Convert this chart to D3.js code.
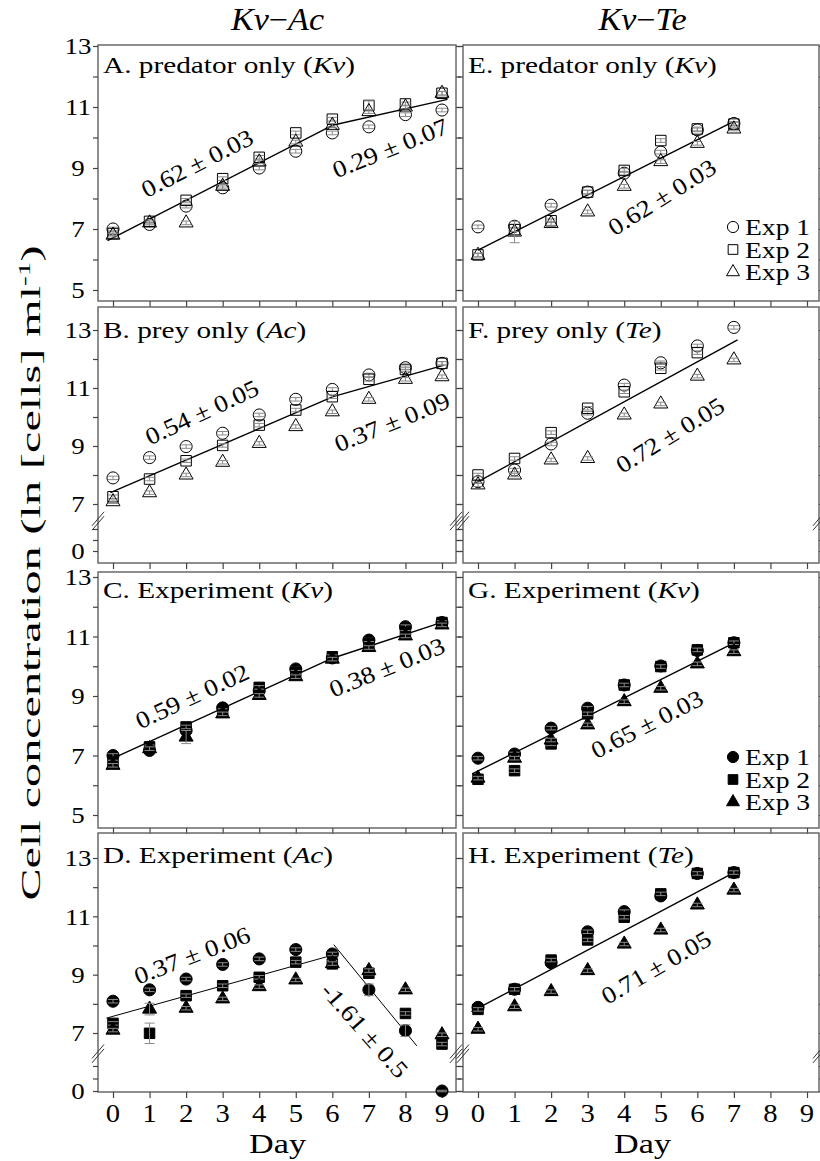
<!DOCTYPE html>
<html>
<head>
<meta charset="utf-8">
<script src="https://cdn.jsdelivr.net/npm/d3@7"></script>
<style>
body { margin: 0; background: #fff; }
svg { display: block; }
text { font-family: "Liberation Serif", "Times New Roman", serif; fill: #000; }
</style>
</head>
<body>
<svg id="chart" width="820" height="1161"></svg>
<script>
// days on the x axis
var days = [0, 1, 2, 3, 4, 5, 6, 7, 8, 9];

// A. predator only (Kv), Kv-Ac
var aExp1 = [7.0, 7.15, 7.75, 8.35, 9.0, 9.55, 10.15, 10.35, 10.75, 10.9];
var aExp2 = [6.85, 7.25, 7.94, 8.65, 9.35, 10.15, 10.6, 11.05, 11.1, 11.45];
var aExp3 = [6.8, 7.2, 7.2, 8.4, 9.2, 9.85, 10.4, 10.85, 11.0, 11.45];
// B. prey only (Ac)
var bExp1 = [7.9, 8.6, 8.98, 9.44, 10.07, 10.61, 10.95, 11.45, 11.7, 11.85];
var bExp2 = [7.25, 7.86, 8.49, 9.02, 9.72, 10.24, 10.7, 11.3, 11.64, 11.85];
var bExp3 = [7.08, 7.39, 8.0, 8.44, 9.09, 9.67, 10.18, 10.61, 11.3, 11.39];
// C. Experiment (Kv)
var cExp1 = [7.0, 7.17, 7.84, 8.6, 9.18, 9.91, 10.28, 10.88, 11.33, 11.47];
var cExp2 = [6.78, 7.29, 7.96, 8.51, 9.29, 9.8, 10.32, 10.77, 11.14, 11.47];
var cExp3 = [6.67, 7.23, 7.62, 8.4, 9.02, 9.65, 10.24, 10.63, 11.02, 11.39];
// D. Experiment (Ac)
var dExp1 = [8.09, 8.48, 8.85, 9.35, 9.54, 9.86, 9.71, 8.48, 7.08, 0];
var dExp2 = [7.33, 6.99, 8.28, 8.62, 8.91, 9.43, 9.37, 9.05, 7.67, 6.62];
var dExp3 = [7.1, 7.82, 7.85, 8.17, 8.59, 8.82, 9.38, 9.14, 8.48, 6.94];
// E. predator only (Kv), Kv-Te
var eExp1 = [7.07, 7.09, 7.78, 8.21, 8.83, 9.52, 10.25, 10.46];
var eExp2 = [6.15, 6.98, 7.27, 8.21, 8.92, 9.9, 10.28, 10.44];
var eExp3 = [6.14, 6.9, 7.18, 7.56, 8.4, 9.21, 9.81, 10.28];
// F. prey only (Te)
var fExp1 = [7.77, 8.17, 9.07, 10.13, 11.1, 11.87, 12.45, 13.09];
var fExp2 = [8.0, 8.57, 9.46, 10.3, 10.87, 11.68, 12.22, null];
var fExp3 = [7.66, 8.0, 8.52, 8.57, 10.07, 10.45, 11.41, 11.97];
// G. Experiment (Kv)
var gExp1 = [6.91, 7.05, 7.92, 8.59, 9.37, 10.01, 10.53, 10.79];
var gExp2 = [6.2, 6.49, 7.39, 8.4, 9.37, 9.99, 10.55, 10.79];
var gExp3 = [6.24, 6.91, 7.52, 8.03, 8.81, 9.26, 10.08, 10.49];
// H. Experiment (Te)
var hExp1 = [7.88, 8.5, 9.41, 10.47, 11.16, 11.7, 12.47, 12.5];
var hExp2 = [7.81, 8.5, 9.5, 10.19, 10.97, 11.77, 12.47, 12.5];
var hExp3 = [7.13, 7.9, 8.42, 9.14, 10.05, 10.53, 11.39, 11.9];

// standard errors: most are tiny, a few are larger
var typicalSE = 0.06;
var largeSE = [
  ["C", 2, 2, 0.22], ["D", 1, 1, 0.35], ["D", 2, 1, 0.2], ["D", 0, 7, 0.2],
  ["D", 0, 8, 0.2], ["D", 1, 6, 0.12], ["E", 2, 1, 0.35], ["A", 1, 7, 0.15]
];

// fitted growth lines [dayFrom, valueFrom, dayTo, valueTo]
var fitA = [[-0.15, 6.62, 6.0, 10.4], [6.0, 10.4, 9.15, 11.25]];
var fitB = [[-0.07, 7.39, 6.02, 10.7], [6.02, 10.7, 9.06, 11.79]];
var fitC = [[-0.05, 6.88, 6.0, 10.27], [6.0, 10.27, 9.06, 11.5]];
var fitD = [[-0.18, 7.51, 5.98, 9.66], [6.04, 10.03, 8.31, 6.56]];
var fitE = [[0, 6.31, 7.0, 10.53]];
var fitF = [[-0.16, 7.66, 7.1, 12.66]];
var fitG = [[-0.16, 6.38, 7.02, 10.79]];
var fitH = [[-0.18, 7.73, 7.0, 12.5]];

// growth rate labels [text, day, value, angle]
var ratesA = [["0.62 \u00b1 0.03", 2.3, 9.16, -27], ["0.29 \u00b1 0.07", 7.58, 9.66, -22]];
var ratesB = [["0.54 \u00b1 0.05", 2.43, 10.17, -25], ["0.37 \u00b1 0.09", 7.63, 9.83, -22]];
var ratesC = [["0.59 \u00b1 0.02", 2.16, 9.0, -25], ["0.38 \u00b1 0.03", 7.49, 9.97, -22]];
var ratesD = [["0.37 \u00b1 0.06", 2.16, 9.67, -21], ["-1.61 \u00b1 0.5", 6.89, 7.1, 48.5]];
var ratesE = [["0.62 \u00b1 0.03", 5.03, 8.05, -32]];
var ratesF = [["0.72 \u00b1 0.05", 5.25, 9.38, -31.5]];
var ratesG = [["0.65 \u00b1 0.03", 4.62, 8.06, -27]];
var ratesH = [["0.71 \u00b1 0.05", 4.87, 9.26, -30]];

var legendLabels = ["Exp 1", "Exp 2", "Exp 3"];
var columnTitles = [["Kv", "Ac"], ["Kv", "Te"]];

// layout
var cols = [
  { x0: 98, x1: 456, d0: 113, d9: 442 },
  { x0: 463, x1: 819, d0: 478, d9: 807 }
];
var rows = [
  { top: 45, bottom: 301, y13: 46, y5: 290, titleY: 73 },
  { top: 307, bottom: 563, y13: 330, y7: 504, y0: 551, low: 11, broken: true, titleY: 338 },
  { top: 572, bottom: 828, y13: 577, y5: 815, titleY: 598 },
  { top: 833, bottom: 1092, y13: 858, y7: 1033, y0: 1091, low: 12.5, broken: true, titleY: 863 }
];

var panels = [
  { id: "A", col: 0, row: 0, title: ["A. predator only (", "Kv", ")"], filled: false, series: [aExp1, aExp2, aExp3], fit: fitA, rates: ratesA },
  { id: "B", col: 0, row: 1, title: ["B. prey only (", "Ac", ")"], filled: false, series: [bExp1, bExp2, bExp3], fit: fitB, rates: ratesB },
  { id: "C", col: 0, row: 2, title: ["C. Experiment (", "Kv", ")"], filled: true, series: [cExp1, cExp2, cExp3], fit: fitC, rates: ratesC },
  { id: "D", col: 0, row: 3, title: ["D. Experiment (", "Ac", ")"], filled: true, series: [dExp1, dExp2, dExp3], fit: fitD, rates: ratesD, thin: true },
  { id: "E", col: 1, row: 0, title: ["E. predator only (", "Kv", ")"], filled: false, series: [eExp1, eExp2, eExp3], fit: fitE, rates: ratesE, legend: true },
  { id: "F", col: 1, row: 1, title: ["F. prey only (", "Te", ")"], filled: false, series: [fExp1, fExp2, fExp3], fit: fitF, rates: ratesF },
  { id: "G", col: 1, row: 2, title: ["G. Experiment (", "Kv", ")"], filled: true, series: [gExp1, gExp2, gExp3], fit: fitG, rates: ratesG, legend: true },
  { id: "H", col: 1, row: 3, title: ["H. Experiment (", "Te", ")"], filled: true, series: [hExp1, hExp2, hExp3], fit: fitH, rates: ratesH }
];

var symbols = [d3.symbolCircle, d3.symbolSquare, d3.symbolTriangle];
var symbolSize = [115, 110, 85];
var frameColor = "#6a6a6a";
var errColor = "#8a8a8a";

var svg = d3.select("#chart");

// text stretched a bit wider, like the original figure
function stretched(parent, x, y, size, sx, rot) {
  return parent.append("text")
    .attr("transform", "translate(" + x + "," + y + ") rotate(" + (rot || 0) + ") scale(" + sx + ",1)")
    .style("font-size", size + "px");
}

function seOf(id, s, i) {
  var hit = largeSE.filter(function (e) { return e[0] === id && e[1] === s && e[2] === i; });
  return hit.length ? hit[0][3] : typicalSE;
}

panels.forEach(function (p) {
  var c = cols[p.col], r = rows[p.row];
  var g = svg.append("g");
  var x = d3.scaleLinear().domain([0, 9]).range([c.d0, c.d9]);
  var y, ticks, labels;
  if (r.broken) {
    var u = (r.y7 - r.y13) / 6;
    y = d3.scaleLinear().domain([0, 2.5, 6.5, 13])
      .range([r.y0, r.y0 - 2.5 * r.low, r.y7 + 0.5 * u, r.y13]);
    ticks = [0, 1, 2, 7, 8, 9, 10, 11, 12, 13];
    labels = [13, 11, 9, 7, 0];
  } else {
    y = d3.scaleLinear().domain([5, 13]).range([r.y5, r.y13]);
    ticks = d3.range(5, 14);
    labels = [13, 11, 9, 7, 5];
  }

  // frame
  g.append("rect")
    .attr("x", c.x0).attr("y", r.top)
    .attr("width", c.x1 - c.x0).attr("height", r.bottom - r.top)
    .attr("fill", "none").attr("stroke", frameColor).attr("stroke-width", 1.5);

  // ticks
  var axL = g.append("g").attr("transform", "translate(" + c.x0 + ",0)")
    .call(d3.axisLeft(y).tickValues(ticks).tickSize(5).tickFormat(""));
  var axR = g.append("g").attr("transform", "translate(" + c.x1 + ",0)")
    .call(d3.axisRight(y).tickValues(ticks).tickSize(5).tickFormat(""));
  var axB = g.append("g").attr("transform", "translate(0," + r.bottom + ")")
    .call(d3.axisBottom(x).tickValues(days).tickSize(6).tickFormat(""));
  [axL, axR, axB].forEach(function (a) {
    a.select(".domain").remove();
    a.selectAll("line").attr("stroke", "#444").attr("stroke-width", 1.2);
  });

  // axis break marks
  if (r.broken) {
    var yb = (y(2.5) + y(6.5)) / 2;
    [c.x0, c.x1].forEach(function (xb) {
      [-2.2, 2.2].forEach(function (o) {
        g.append("line")
          .attr("x1", xb - 6).attr("y1", yb + 7 + o)
          .attr("x2", xb + 6).attr("y2", yb - 7 + o)
          .attr("stroke", "#333").attr("stroke-width", 1);
      });
    });
  }

  // y labels on the left column
  if (p.col === 0) {
    labels.forEach(function (v) {
      stretched(g, 78, y(v), 24, 1.12).attr("text-anchor", "middle")
        .attr("dy", "0.35em").text(v);
    });
  }

  // x labels on the bottom row
  if (p.row === 3) {
    days.forEach(function (d) {
      stretched(g, x(d), 1122, 26, 1.1).attr("text-anchor", "middle").text(d);
    });
    stretched(g, x(4.5), 1153, 28, 1.22).attr("text-anchor", "middle").text("Day");
  }

  // panel title
  var t = stretched(g, c.x0 + 5, r.titleY, 24, 1.22);
  t.append("tspan").text(p.title[0]);
  t.append("tspan").style("font-style", "italic").text(p.title[1]);
  t.append("tspan").text(p.title[2]);

  // fitted lines
  g.selectAll(".fit").data(p.fit).enter().append("line")
    .attr("x1", function (d) { return x(d[0]); })
    .attr("y1", function (d) { return y(d[1]); })
    .attr("x2", function (d) { return x(d[2]); })
    .attr("y2", function (d) { return y(d[3]); })
    .attr("stroke", "#000").attr("stroke-width", p.thin ? 1 : 1.4);

  // points with error bars
  p.series.forEach(function (vals, s) {
    var pts = vals.map(function (v, i) { return { day: i, v: v, se: seOf(p.id, s, i) }; })
      .filter(function (d) { return d.v !== null; });
    g.selectAll(".m" + s).data(pts).enter().append("path")
      .attr("transform", function (d) { return "translate(" + x(d.day) + "," + y(d.v) + ")"; })
      .attr("d", d3.symbol().type(symbols[s]).size(symbolSize[s]))
      .attr("fill", p.filled ? "#000" : "none")
      .attr("stroke", "#000").attr("stroke-width", 1);
    var eb = g.selectAll(".e" + s).data(pts).enter().append("g")
      .attr("stroke", errColor).attr("stroke-width", 1);
    eb.append("line")
      .attr("x1", function (d) { return x(d.day); }).attr("x2", function (d) { return x(d.day); })
      .attr("y1", function (d) { return y(d.v - d.se); }).attr("y2", function (d) { return y(d.v + d.se); });
    [-1, 1].forEach(function (k) {
      eb.append("line")
        .attr("x1", function (d) { return x(d.day) - 5; }).attr("x2", function (d) { return x(d.day) + 5; })
        .attr("y1", function (d) { return y(d.v + k * d.se); }).attr("y2", function (d) { return y(d.v + k * d.se); });
    });
  });

  // growth rates
  p.rates.forEach(function (rt) {
    stretched(g, x(rt[1]), y(rt[2]), 24, 1.12, rt[3])
      .attr("text-anchor", "middle").attr("dy", "0.35em").text(rt[0]);
  });

  // legend
  if (p.legend) {
    legendLabels.forEach(function (lab, s) {
      var ly = r.top + (p.row === 0 ? 182 : 185) + s * 22.5;
      g.append("path")
        .attr("transform", "translate(733," + ly + ")")
        .attr("d", d3.symbol().type(symbols[s]).size(symbolSize[s] * 0.85))
        .attr("fill", p.filled ? "#000" : "none")
        .attr("stroke", "#000").attr("stroke-width", 1);
      stretched(g, 745, ly, 24, 1.15).attr("dy", "0.35em").text(lab);
    });
  }
});

// column titles
columnTitles.forEach(function (ct, i) {
  var c = cols[i];
  var xm = (c.d0 + c.d9) / 2;
  var t = stretched(svg, xm, 30, 31, 1.1).attr("text-anchor", "middle");
  t.append("tspan").style("font-style", "italic").text(ct[0]);
  t.append("tspan").text("\u2212");
  t.append("tspan").style("font-style", "italic").text(ct[1]);
});

// y axis title
var yt = svg.append("text")
  .attr("transform", "translate(40,573) rotate(-90)")
  .attr("text-anchor", "middle")
  .attr("textLength", 655).attr("lengthAdjust", "spacingAndGlyphs")
  .style("font-size", "28px");
yt.append("tspan").text("Cell concentration (ln [cells] ml");
yt.append("tspan").attr("dy", -10).style("font-size", "17px").text("-1");
yt.append("tspan").attr("dy", 10).text(")");
</script>
</body>
</html>
